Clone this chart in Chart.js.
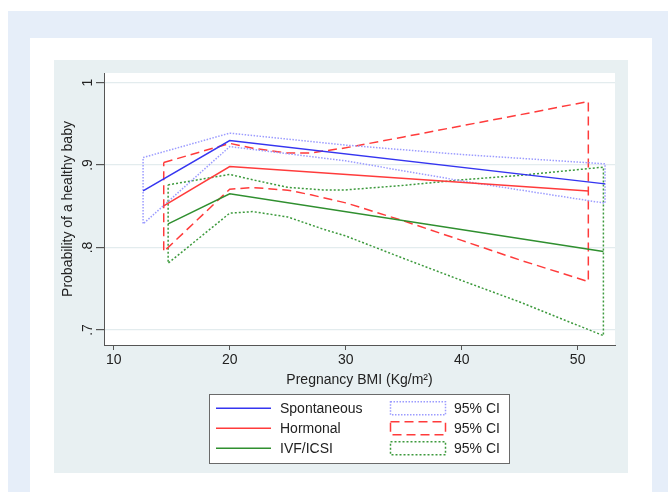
<!DOCTYPE html>
<html lang="en">
<head>
<meta charset="UTF-8">
<title>Probability of a healthy baby by pregnancy BMI</title>
<script src="https://cdn.jsdelivr.net/npm/chart.js"></script>
<style>
  body { margin: 0; background: #fff; width: 668px; height: 492px; overflow: hidden; position: relative; }
  .page { position: absolute; left: 8px; top: 11px; right: 0; bottom: 0; background: #e6eef9; }
  .card { position: absolute; left: 30px; top: 38px; width: 622px; bottom: 0; background: #fff; }
  .region { position: absolute; left: 54px; top: 60px; width: 574px; height: 413px; background: #e8f0f2; }
  canvas { position: absolute; left: 0; top: 0; }
</style>
</head>
<body>
<div class="page"></div>
<div class="card"></div>
<div class="region"></div>
<canvas id="chart" width="668" height="492"></canvas>
<script>
  // axis ticks
  const xTicks = [10, 20, 30, 40, 50];
  const yTicks = [0.7, 0.8, 0.9, 1];
  const yTickLabels = [".7", ".8", ".9", "1"];

  const seriesNames = ["Spontaneous", "Hormonal", "IVF/ICSI"];
  const ciLabel = "95% CI";

  // fitted probability lines
  const bmiSpont = [12.53, 20, 52.36];
  const probSpont = [0.8686, 0.9297, 0.8771];
  const bmiHorm = [14.31, 20, 50.92];
  const probHorm = [0.8504, 0.8981, 0.8686];
  const bmiIvf = [14.69, 20, 52.22];
  const probIvf = [0.8286, 0.865, 0.795];

  // 95% confidence bands
  const ciBmiSpont = [12.53, 20, 30, 40, 52.36];
  const ciHiSpont = [0.909, 0.9386, 0.9241, 0.9127, 0.9014];
  const ciLoSpont = [0.8286, 0.9223, 0.905, 0.8807, 0.8537];

  const ciBmiHorm = [14.31, 20, 22, 25, 27, 30, 35, 40, 45, 50.92];
  const ciHiHorm = [0.903, 0.9262, 0.9204, 0.9144, 0.9147, 0.9208, 0.934, 0.9475, 0.9608, 0.977];
  const ciLoHorm = [0.795, 0.8707, 0.8726, 0.8695, 0.8638, 0.8541, 0.8322, 0.8086, 0.7849, 0.7586];

  const ciBmiIvf = [14.69, 20, 22, 25, 28, 30, 35, 40, 45, 52.22];
  const ciHiIvf = [0.8759, 0.8886, 0.882, 0.8729, 0.8698, 0.8698, 0.8753, 0.882, 0.8874, 0.8974];
  const ciLoIvf = [0.7809, 0.8416, 0.8435, 0.837, 0.8225, 0.814, 0.7867, 0.76, 0.734, 0.6931];

  const lineColors = ["#3535f0", "#ff3b3b", "#2f8f2f"];
  const ciColors = ["#9c9cff", "#ff3b3b", "#3d9a3d"];
  const ciDashes = [[1.5, 1.5], [9, 5], [2, 2]];

  const pts = (xs, ys) => xs.map((x, i) => ({ x: x, y: ys[i] }));
  // closed outline of a band: upper edge, right side, lower edge back, left side
  const outline = (xs, lo, hi) => pts(xs, hi).concat(pts(xs, lo).reverse(), [{ x: xs[0], y: hi[0] }]);

  const lineSet = (data, i) => ({
    data: data, borderColor: lineColors[i], borderWidth: 1.5,
    pointRadius: 0, tension: 0, order: 1
  });
  const ciSet = (data, i) => ({
    data: data, borderColor: ciColors[i], borderWidth: 1.5, borderDash: ciDashes[i],
    pointRadius: 0, tension: 0, fill: false, order: 2
  });

  const plotBackground = {
    id: "plotBackground",
    beforeDraw(chart) {
      const a = chart.chartArea;
      chart.ctx.save();
      chart.ctx.fillStyle = "#fff";
      chart.ctx.fillRect(a.left, a.top, a.right - a.left, a.bottom - a.top);
      chart.ctx.restore();
    }
  };

  const stataLegend = {
    id: "stataLegend",
    afterDraw(chart) {
      const ctx = chart.ctx;
      ctx.save();
      ctx.fillStyle = "#fff";
      ctx.fillRect(209.5, 394.5, 300, 69);
      ctx.strokeStyle = "#6a6a6a";
      ctx.lineWidth = 1;
      ctx.strokeRect(209.5, 394.5, 300, 69);
      ctx.font = "14px 'Liberation Sans', Arial, sans-serif";
      ctx.textBaseline = "middle";
      ctx.fillStyle = "#222";
      seriesNames.forEach((name, i) => {
        const y = 408.3 + i * 20;
        ctx.setLineDash([]);
        ctx.strokeStyle = lineColors[i];
        ctx.lineWidth = 1.5;
        ctx.beginPath();
        ctx.moveTo(216, y);
        ctx.lineTo(271, y);
        ctx.stroke();
        ctx.fillText(name, 280, y + 0.5);
        ctx.strokeStyle = ciColors[i];
        ctx.setLineDash(ciDashes[i]);
        ctx.strokeRect(390.5, y - 6.5, 55, 13);
        ctx.fillText(ciLabel, 454, y + 0.5);
      });
      ctx.restore();
    }
  };

  Chart.defaults.font.family = "'Liberation Sans', Arial, sans-serif";
  Chart.defaults.font.size = 14;
  Chart.defaults.color = "#222";

  new Chart(document.getElementById("chart"), {
    type: "line",
    data: {
      datasets: [
        lineSet(pts(bmiSpont, probSpont), 0),
        lineSet(pts(bmiHorm, probHorm), 1),
        lineSet(pts(bmiIvf, probIvf), 2),
        ciSet(outline(ciBmiSpont, ciLoSpont, ciHiSpont), 0),
        ciSet(outline(ciBmiHorm, ciLoHorm, ciHiHorm), 1),
        ciSet(outline(ciBmiIvf, ciLoIvf, ciHiIvf), 2)
      ]
    },
    options: {
      responsive: false,
      animation: false,
      events: [],
      layout: { padding: { left: 54, top: 73, right: 53, bottom: 103.6 } },
      plugins: { legend: { display: false }, tooltip: { enabled: false } },
      scales: {
        x: {
          type: "linear", min: 9.16, max: 53.22,
          afterBuildTicks: s => { s.ticks = xTicks.map(v => ({ value: v })); },
          afterFit: s => { s.height = 43.4; },
          ticks: { padding: 2, maxRotation: 0, autoSkip: false },
          grid: { drawOnChartArea: false, tickColor: "#555", tickLength: 5 },
          border: { color: "#555", width: 1 },
          title: { display: true, text: "Pregnancy BMI (Kg/m²)", padding: { top: 0, bottom: 0 } }
        },
        y: {
          type: "linear", min: 0.6818, max: 1.0115,
          afterBuildTicks: s => { s.ticks = yTicks.map(v => ({ value: v })); },
          afterFit: s => { s.width = 50; },
          ticks: {
            callback: (v, i) => yTickLabels[i],
            minRotation: 90, maxRotation: 90, crossAlign: "center", padding: 2
          },
          grid: { color: "#e3ecee", lineWidth: 1.2, tickColor: "#555", tickLength: 8 },
          border: { color: "#555", width: 1 },
          title: { display: true, text: "Probability of a healthy baby", padding: { top: 5.6, bottom: 0 } }
        }
      }
    },
    plugins: [plotBackground, stataLegend]
  });
</script>
</body>
</html>
